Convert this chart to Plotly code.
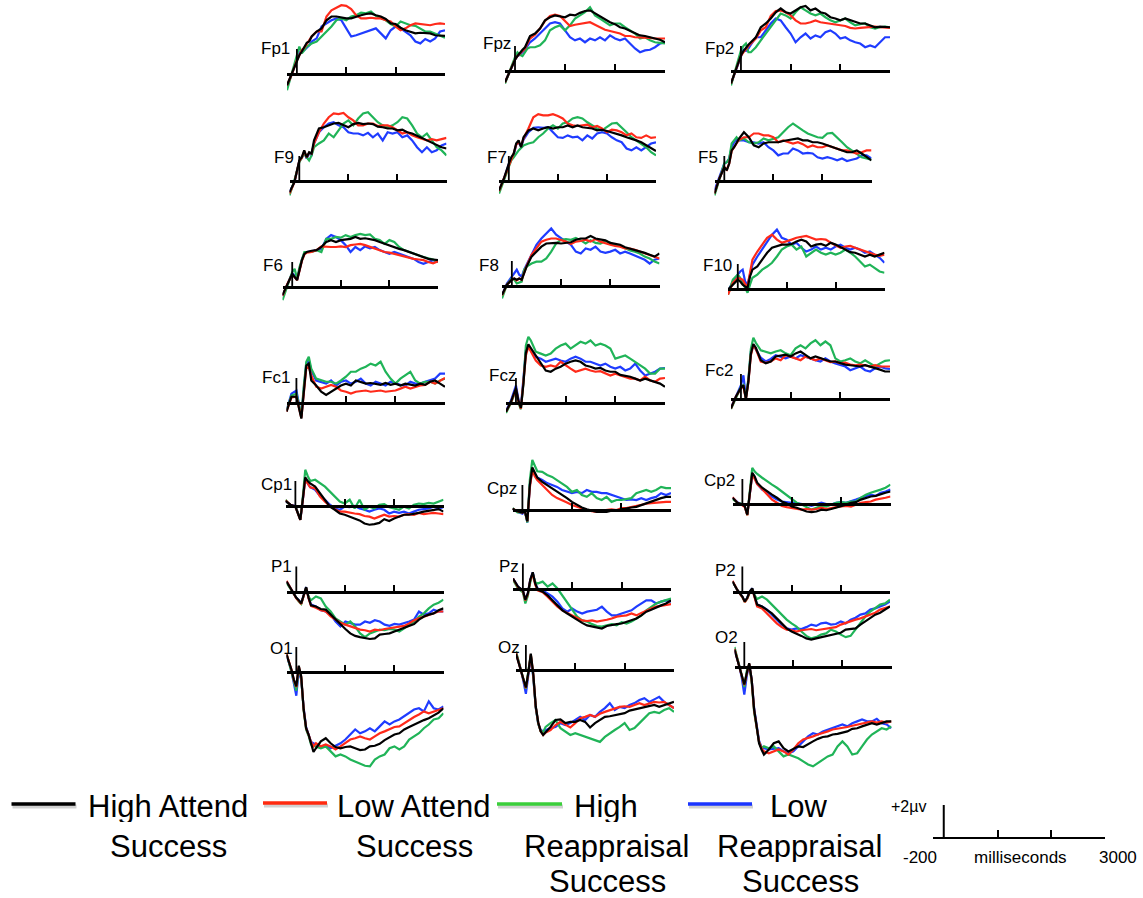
import plotly.graph_objects as go

# ---------------------------------------------------------------------------
# Sampling times (ms). Occipital sites carry an extra early sample at 350 ms
# because of the sharp N1-like trough.
# ---------------------------------------------------------------------------
TIME = [-200, -100, 0, 50, 100, 150, 200, 250, 300,
        400, 500, 600, 700, 800, 900, 1000, 1100, 1200, 1300, 1400, 1500,
        1600, 1700, 1800, 1900, 2000, 2100, 2200, 2300, 2400, 2500, 2600,
        2700, 2800, 2900, 3000]
TIME_OCC = [-200, -100, -50, 0, 50, 100, 150, 200, 250, 300, 350, 400,
            500, 600, 700, 800, 900, 1000, 1100, 1200, 1300, 1400, 1500,
            1600, 1700, 1800, 1900, 2000, 2100, 2200, 2300, 2400, 2500, 2600,
            2700, 2800, 2900, 3000]

# Grand-average amplitudes (microvolts).
# HA = High Attend Success, LA = Low Attend Success,
# HR = High Reappraisal Success, LR = Low Reappraisal Success
FP1_HA = [-0.9, 0.05, 1.1, 1.5, 1.8, 2.2, 2.5, 2.6, 3.0, 3.4, 3.65, 4.3, 4.6, 4.6, 4.5, 4.45, 4.45, 4.6, 4.7, 4.8, 4.85, 4.7, 4.6, 4.4, 4.05, 4.0, 3.7, 3.5, 3.4, 3.25, 3.3, 3.25, 3.25, 3.1, 3.1, 3.05]
FP1_LA = [-0.9, 0.0, 1.1, 1.5, 1.9, 2.1, 2.4, 2.6, 3.0, 3.4, 3.4, 4.6, 5.1, 5.3, 5.5, 5.45, 5.2, 4.7, 4.45, 4.45, 4.5, 4.45, 4.45, 4.3, 4.2, 3.8, 3.5, 3.65, 3.9, 4.05, 4.0, 4.0, 3.9, 4.0, 4.05, 4.0]
FP1_HR = [-1.3, 0.2, 1.5, 2.2, 1.65, 1.9, 2.2, 2.3, 2.45, 2.6, 3.0, 3.4, 3.8, 4.3, 4.45, 4.3, 4.6, 4.7, 4.9, 4.85, 5.0, 4.65, 4.45, 4.3, 4.0, 3.8, 4.2, 4.05, 3.9, 3.85, 3.65, 3.4, 3.4, 3.25, 3.1, 2.9]
FP1_LR = [-1.0, 0.0, 1.2, 1.7, 1.9, 1.9, 2.1, 2.3, 2.6, 2.85, 3.8, 4.05, 4.3, 4.45, 4.3, 3.65, 3.0, 3.1, 3.25, 3.4, 3.5, 3.65, 3.25, 2.85, 3.5, 3.8, 3.65, 3.4, 3.1, 2.6, 2.45, 2.8, 2.6, 2.85, 3.4, 3.5]

FPZ_HA = [-0.9, 0.05, 0.9, 1.2, 1.5, 1.7, 1.9, 2.4, 2.8, 3.0, 3.4, 4.05, 4.3, 4.45, 4.35, 4.3, 4.5, 4.45, 4.65, 4.8, 4.85, 4.6, 4.35, 4.1, 3.9, 3.75, 3.5, 3.4, 3.2, 3.0, 2.85, 2.8, 2.7, 2.65, 2.5, 2.3]
FPZ_LA = [-0.9, 0.0, 0.9, 1.2, 1.4, 1.6, 1.8, 2.2, 2.6, 2.9, 3.4, 4.0, 4.4, 4.5, 4.4, 4.0, 3.6, 3.7, 3.75, 3.8, 3.9, 3.7, 3.5, 3.3, 3.2, 3.1, 3.0, 2.8, 2.8, 2.7, 2.7, 2.7, 2.65, 2.6, 2.6, 2.6]
FPZ_HR = [-1.0, 0.1, 1.1, 1.5, 1.3, 1.2, 1.5, 1.8, 1.9, 1.9, 2.05, 2.45, 3.25, 3.5, 3.65, 3.25, 3.65, 4.2, 4.45, 4.7, 5.1, 4.45, 4.2, 3.9, 3.65, 3.8, 3.8, 3.5, 3.25, 3.0, 2.6, 2.7, 2.45, 2.3, 2.25, 2.2]
FPZ_LR = [-0.9, 0.0, 0.9, 1.2, 1.3, 1.5, 1.7, 2.0, 2.3, 2.6, 3.0, 3.4, 3.8, 3.9, 3.8, 3.25, 2.7, 2.45, 2.6, 2.3, 2.6, 2.45, 2.7, 2.45, 2.85, 2.6, 2.45, 2.6, 2.2, 1.8, 1.5, 1.65, 1.7, 1.9, 2.2, 2.3]

FP2_HA = [-1.0, 0.05, 1.25, 1.6, 1.9, 2.1, 2.3, 2.5, 2.7, 3.5, 3.8, 4.2, 4.7, 5.0, 4.7, 4.6, 4.85, 5.1, 5.2, 4.85, 5.0, 4.7, 4.6, 4.3, 4.2, 4.05, 4.2, 4.05, 3.9, 3.8, 3.8, 3.65, 3.5, 3.55, 3.5, 3.5]
FP2_LA = [-1.0, 0.05, 1.2, 1.5, 1.8, 2.0, 2.2, 2.4, 2.6, 3.25, 3.5, 4.4, 4.8, 4.85, 4.7, 4.45, 4.05, 3.8, 3.8, 3.9, 4.05, 3.9, 3.85, 3.8, 3.75, 3.65, 3.6, 3.45, 3.4, 3.45, 3.5, 3.5, 3.55, 3.5, 3.45, 3.45]
FP2_HR = [-1.15, 0.3, 1.65, 2.0, 2.2, 1.5, 1.5, 1.7, 1.9, 2.45, 3.0, 3.5, 4.05, 4.6, 4.45, 4.2, 4.7, 5.1, 4.85, 4.6, 4.45, 4.6, 4.3, 4.05, 3.9, 4.05, 4.2, 3.9, 3.65, 3.75, 3.8, 3.5, 3.4, 3.5, 3.55, 3.5]
FP2_LR = [-1.0, 0.1, 1.3, 1.7, 1.6, 1.8, 2.1, 2.4, 2.7, 2.7, 3.25, 3.8, 4.2, 4.05, 3.5, 3.0, 2.3, 2.7, 3.0, 2.6, 2.85, 2.7, 3.1, 3.25, 3.0, 2.6, 2.7, 2.45, 2.3, 2.2, 1.9, 2.05, 1.9, 2.3, 2.7, 2.7]

F9_HA = [-0.9, -0.1, 1.65, 1.9, 2.45, 1.9, 2.3, 2.2, 3.25, 4.2, 4.3, 4.45, 4.6, 4.65, 4.45, 4.3, 4.55, 4.65, 4.55, 4.6, 4.55, 4.35, 4.3, 4.2, 4.2, 4.05, 4.1, 3.9, 3.8, 3.65, 3.45, 3.25, 3.05, 2.85, 2.7, 2.6]
F9_LA = [-1.0, -0.1, 1.6, 1.85, 2.4, 1.9, 2.25, 2.2, 3.0, 3.9, 4.6, 5.1, 5.4, 5.35, 5.45, 5.1, 4.85, 4.45, 4.45, 4.6, 4.6, 4.4, 4.45, 4.45, 4.3, 4.05, 3.8, 3.9, 3.65, 3.5, 3.35, 3.25, 3.35, 3.25, 3.35, 3.45]
F9_HR = [-1.15, 0.05, 1.5, 1.8, 2.2, 1.9, 1.65, 2.05, 2.7, 3.0, 3.25, 3.8, 3.5, 4.05, 4.6, 4.85, 4.45, 5.0, 5.4, 5.5, 5.1, 4.7, 4.45, 4.3, 4.45, 4.7, 5.1, 5.0, 4.45, 3.8, 3.5, 3.8, 3.25, 2.7, 2.45, 2.05]
F9_LR = [-0.9, -0.1, 1.6, 1.85, 2.3, 1.8, 2.2, 2.1, 3.0, 3.9, 4.3, 4.6, 4.7, 4.45, 4.3, 3.9, 3.8, 3.8, 3.65, 3.85, 3.5, 3.8, 3.25, 3.9, 3.8, 3.9, 3.5, 3.65, 3.25, 2.7, 2.3, 2.7, 2.3, 2.45, 2.85, 3.0]

F7_HA = [-0.75, 0.2, 1.4, 1.9, 2.2, 3.0, 3.25, 2.7, 3.5, 4.05, 4.2, 4.05, 4.2, 4.3, 4.2, 4.3, 4.3, 4.45, 4.3, 4.45, 4.3, 4.25, 4.2, 4.05, 4.1, 4.0, 3.9, 3.8, 3.65, 3.5, 3.4, 3.25, 3.1, 2.85, 2.6, 2.4]
F7_LA = [-0.8, 0.2, 1.35, 1.85, 2.2, 2.9, 3.1, 2.8, 3.4, 4.2, 5.1, 5.35, 5.25, 5.25, 5.35, 5.2, 5.0, 4.6, 4.45, 4.4, 4.45, 4.5, 4.3, 4.4, 4.2, 3.9, 4.1, 4.05, 3.9, 3.65, 3.8, 3.5, 3.45, 3.65, 3.45, 3.5]
F7_HR = [-1.0, 0.05, 1.25, 1.65, 1.9, 2.2, 2.45, 2.65, 2.85, 3.0, 3.1, 3.5, 3.8, 4.2, 4.45, 4.2, 4.6, 4.7, 5.0, 5.1, 5.0, 4.7, 4.45, 4.2, 4.05, 4.3, 4.6, 4.65, 4.3, 3.9, 3.5, 3.25, 3.0, 2.7, 2.3, 2.05]
F7_LR = [-0.8, 0.15, 1.35, 1.8, 2.1, 2.9, 3.1, 2.75, 3.3, 3.9, 4.25, 4.3, 4.25, 4.3, 3.9, 3.5, 3.45, 3.65, 3.5, 3.55, 3.25, 3.65, 3.4, 3.8, 3.9, 3.8, 3.5, 3.25, 3.1, 2.6, 2.45, 2.7, 2.45, 2.7, 3.0, 3.1]

F5_HA = [-1.0, 0.2, 1.1, 0.85, 1.4, 2.45, 2.7, 3.1, 3.4, 3.9, 3.5, 2.85, 2.7, 3.0, 3.1, 3.1, 3.1, 3.2, 3.25, 3.3, 3.4, 3.25, 3.25, 3.1, 3.1, 3.0, 2.85, 2.7, 2.6, 2.45, 2.3, 2.3, 2.45, 2.2, 1.9, 1.65]
F5_LA = [-1.0, 0.2, 1.1, 0.9, 1.4, 2.4, 2.7, 3.0, 3.3, 3.5, 3.5, 3.8, 3.8, 3.65, 3.65, 3.5, 3.1, 3.25, 3.1, 3.0, 3.1, 2.95, 2.7, 2.85, 2.7, 2.7, 2.85, 2.7, 2.6, 2.45, 2.45, 2.3, 2.2, 2.3, 2.45, 2.45]
F5_HR = [-1.15, 0.05, 1.4, 1.5, 1.8, 3.0, 3.25, 3.5, 3.25, 3.4, 3.1, 3.0, 3.1, 3.4, 3.25, 3.4, 3.5, 3.9, 4.3, 4.6, 4.3, 4.05, 3.8, 3.65, 3.5, 3.45, 3.8, 3.85, 3.5, 3.1, 2.7, 2.45, 2.2, 1.9, 1.8, 1.7]
F5_LR = [-0.75, 0.3, 1.4, 1.5, 1.8, 2.7, 3.1, 3.3, 3.25, 3.25, 3.1, 3.1, 3.0, 3.1, 2.7, 2.45, 2.05, 2.2, 2.2, 2.6, 2.45, 2.2, 2.25, 2.2, 1.9, 1.8, 1.9, 1.8, 1.65, 1.8, 1.6, 1.7, 1.8, 2.05, 2.05, 1.8]

F6_HA = [-0.65, 0.25, 1.05, 0.8, 0.55, 1.35, 2.15, 2.65, 2.8, 2.9, 2.95, 3.2, 3.6, 3.75, 3.6, 3.75, 3.8, 3.85, 4.0, 3.85, 3.9, 3.85, 3.75, 3.6, 3.45, 3.35, 3.2, 3.05, 2.95, 2.8, 2.65, 2.5, 2.4, 2.25, 2.2, 2.15]
F6_LA = [-0.7, 0.25, 1.0, 0.8, 0.55, 1.3, 2.1, 2.6, 2.75, 2.8, 2.95, 3.25, 3.2, 3.2, 3.2, 3.25, 3.2, 3.35, 3.4, 3.45, 3.35, 3.2, 3.05, 2.95, 2.8, 2.75, 2.65, 2.55, 2.4, 2.35, 2.25, 2.2, 2.15, 2.0, 1.9, 2.05]
F6_HR = [-1.05, 0.15, 1.2, 1.45, 0.65, 1.6, 2.25, 2.8, 2.8, 2.8, 2.95, 2.8, 3.85, 3.85, 4.0, 3.95, 4.15, 4.0, 4.15, 4.25, 4.15, 4.2, 3.85, 3.75, 3.45, 3.75, 3.6, 3.2, 2.95, 2.8, 2.65, 2.5, 2.4, 2.3, 2.2, 2.0]
F6_LR = [-0.7, 0.2, 1.1, 0.9, 0.6, 1.4, 2.2, 2.7, 2.8, 2.85, 2.95, 3.05, 3.85, 4.15, 4.0, 3.75, 3.35, 2.8, 3.2, 2.95, 3.25, 3.1, 3.2, 2.95, 2.8, 2.65, 2.8, 2.65, 2.5, 2.4, 2.25, 2.0, 1.85, 2.0, 2.15, 2.0]

F8_HA = [-0.7, 0.1, 0.5, 0.6, 0.5, 0.6, 0.5, 1.0, 1.55, 2.35, 2.75, 3.15, 3.4, 3.45, 3.45, 3.4, 3.45, 3.5, 3.7, 3.8, 3.8, 4.0, 3.8, 3.7, 3.65, 3.45, 3.35, 3.3, 3.1, 3.0, 2.9, 2.75, 2.65, 2.5, 2.35, 2.6]
F8_LA = [-0.75, 0.1, 0.5, 0.6, 0.45, 0.6, 0.5, 1.05, 1.6, 2.5, 3.0, 3.55, 3.7, 3.8, 3.8, 3.7, 3.55, 3.35, 3.55, 3.6, 3.7, 3.55, 3.75, 3.55, 3.4, 3.3, 3.2, 3.15, 3.0, 3.0, 2.9, 2.75, 2.6, 2.5, 2.35, 2.2]
F8_HR = [-1.0, 0.1, 0.6, 0.5, 0.2, 0.3, 0.35, 1.3, 1.55, 1.8, 1.95, 1.95, 2.2, 2.75, 3.4, 3.7, 3.75, 3.7, 3.85, 3.65, 3.4, 3.65, 3.45, 3.4, 3.6, 3.45, 3.25, 3.2, 3.0, 2.85, 2.75, 2.6, 2.35, 2.2, 1.95, 1.8]
F8_LR = [-0.75, 0.2, 0.75, 1.0, 1.3, 0.9, 0.75, 1.3, 1.7, 2.6, 3.3, 3.8, 4.2, 4.6, 4.1, 3.8, 3.55, 3.3, 2.75, 2.6, 3.0, 2.9, 3.15, 2.75, 2.65, 2.75, 2.9, 2.6, 2.75, 2.6, 2.45, 2.3, 2.1, 1.8, 2.1, 2.2]

F10_HA = [-0.05, 0.35, 0.75, 0.6, 0.35, 0.2, 0.1, 1.0, 1.55, 1.8, 2.35, 2.9, 3.3, 3.4, 3.55, 3.55, 3.6, 3.8, 3.95, 3.8, 3.4, 3.55, 3.6, 3.45, 3.7, 3.55, 3.35, 3.15, 2.95, 2.9, 2.75, 2.6, 2.75, 2.6, 2.75, 2.9]
F10_LA = [-0.45, 0.5, 0.9, 0.8, 0.75, 0.4, 0.2, 1.3, 2.35, 3.0, 3.55, 4.1, 4.35, 3.95, 3.7, 3.8, 3.95, 4.1, 4.2, 4.25, 4.1, 3.95, 4.0, 3.95, 3.7, 3.5, 3.3, 3.4, 3.45, 3.3, 3.15, 3.0, 2.9, 2.75, 2.65, 2.75]
F10_HR = [-0.45, 0.75, 1.15, 0.9, 0.5, 0.1, -0.3, 0.35, 0.9, 1.15, 1.55, 1.8, 2.1, 2.6, 3.15, 3.4, 3.55, 3.15, 3.4, 2.6, 2.9, 3.15, 2.9, 2.75, 2.9, 2.75, 2.9, 3.15, 2.9, 2.6, 2.2, 1.8, 1.95, 1.7, 1.4, 1.3]
F10_LR = [-0.2, 0.6, 1.15, 1.4, 1.55, 0.6, 0.35, 1.3, 1.95, 2.6, 3.15, 3.7, 4.35, 4.75, 4.1, 3.95, 3.55, 3.7, 3.3, 3.0, 3.15, 3.4, 3.15, 3.3, 3.15, 3.4, 3.55, 3.3, 3.15, 3.3, 3.15, 2.9, 3.0, 2.75, 2.5, 2.1]

FC1_HA = [-0.7, 0.5, 0.5, -0.3, -1.25, 0.9, 3.0, 3.15, 1.8, 1.4, 0.9, 0.65, 0.9, 1.15, 1.4, 1.55, 1.4, 1.8, 1.7, 1.55, 1.6, 1.55, 1.45, 1.6, 1.45, 1.55, 1.4, 1.55, 1.45, 1.4, 1.55, 1.45, 1.7, 1.8, 1.55, 1.3]
FC1_LA = [-0.7, 0.45, 0.5, -0.35, -1.2, 0.8, 2.8, 2.9, 2.2, 1.3, 1.15, 1.3, 1.45, 1.3, 1.0, 0.9, 0.75, 0.9, 0.95, 1.0, 0.9, 0.95, 1.0, 0.9, 0.95, 1.0, 1.15, 1.3, 1.15, 1.3, 1.4, 1.45, 1.7, 1.55, 1.8, 2.0]
FC1_HR = [-0.6, 0.6, 0.75, -0.2, -1.0, 1.4, 3.3, 3.7, 2.75, 1.95, 1.8, 1.7, 1.7, 1.55, 1.8, 2.1, 2.5, 2.5, 2.75, 2.9, 3.15, 3.0, 3.3, 2.5, 1.95, 1.55, 1.95, 2.2, 2.5, 1.8, 1.55, 1.7, 1.7, 1.55, 1.8, 1.95]
FC1_LR = [-0.6, 0.75, 1.0, -0.05, -1.1, 1.15, 3.15, 3.45, 2.6, 1.8, 1.7, 1.55, 1.8, 1.4, 1.7, 1.8, 1.55, 1.7, 1.95, 1.55, 1.4, 1.7, 1.55, 1.4, 1.7, 1.55, 1.45, 1.4, 1.7, 1.55, 1.55, 1.7, 1.8, 1.95, 2.35, 2.35]

FCZ_HA = [-0.7, 0.1, 1.2, 0.2, -0.4, 1.5, 4.0, 4.7, 4.4, 3.8, 3.15, 2.6, 2.5, 2.75, 2.9, 3.15, 3.3, 3.4, 3.3, 3.0, 2.9, 2.75, 2.8, 2.6, 2.5, 2.5, 2.25, 2.2, 2.1, 1.95, 1.8, 1.95, 1.8, 1.7, 1.55, 1.3]
FCZ_LA = [-0.7, 0.05, 1.1, 0.15, -0.45, 1.4, 3.8, 4.5, 4.1, 3.4, 3.0, 2.9, 3.0, 2.9, 3.3, 3.0, 2.75, 2.5, 2.6, 2.75, 2.6, 2.5, 2.55, 2.35, 2.2, 2.35, 2.2, 2.1, 1.95, 1.95, 1.8, 2.1, 1.8, 1.7, 1.95, 2.0]
FCZ_HR = [-0.8, 0.0, 1.0, 0.0, -0.5, 1.6, 4.6, 5.3, 5.0, 4.1, 3.95, 3.8, 3.95, 4.35, 4.6, 4.75, 4.35, 4.6, 4.9, 4.75, 5.0, 4.6, 4.75, 4.6, 4.35, 3.55, 3.7, 3.8, 3.55, 3.3, 3.0, 2.75, 2.35, 2.35, 2.75, 2.75]
FCZ_LR = [-0.65, 0.2, 1.4, 0.3, -0.3, 1.7, 4.2, 4.6, 4.2, 3.7, 3.55, 3.3, 3.4, 3.55, 3.4, 3.3, 3.55, 3.7, 3.55, 3.3, 3.3, 3.15, 3.0, 3.15, 2.9, 2.75, 2.9, 2.6, 2.75, 3.15, 2.6, 2.2, 2.35, 2.5, 2.75, 2.8]

FC2_HA = [-0.75, 0.2, 0.9, 1.1, 0.0, 1.4, 3.6, 4.4, 4.1, 3.1, 2.85, 3.0, 3.4, 3.5, 3.55, 3.4, 3.65, 3.8, 3.5, 3.25, 3.4, 3.25, 3.1, 3.0, 3.0, 2.85, 2.75, 2.7, 2.65, 2.6, 2.7, 2.6, 2.45, 2.35, 2.2, 2.2]
FC2_LA = [-0.75, 0.2, 0.85, 1.0, 0.0, 1.35, 3.5, 4.3, 4.0, 3.0, 2.9, 3.0, 3.25, 3.1, 3.5, 3.4, 3.25, 3.1, 3.4, 3.25, 3.1, 3.25, 3.1, 2.95, 3.0, 2.85, 2.9, 2.75, 2.7, 2.75, 2.7, 2.6, 2.7, 2.6, 2.6, 2.6]
FC2_HR = [-0.8, 0.15, 0.95, 1.1, 0.1, 1.6, 4.0, 4.9, 4.5, 3.9, 3.8, 3.65, 3.8, 3.9, 3.65, 3.5, 4.05, 4.3, 4.05, 4.45, 4.7, 4.3, 4.6, 4.3, 3.25, 3.0, 3.1, 3.25, 3.0, 2.85, 3.1, 2.85, 2.6, 2.85, 3.05, 3.1]
FC2_LR = [-0.7, 0.25, 1.1, 1.9, 0.1, 1.5, 3.8, 4.3, 4.0, 3.3, 3.0, 3.2, 3.5, 3.4, 3.25, 3.4, 3.25, 3.5, 3.4, 3.25, 3.1, 3.0, 3.25, 3.0, 2.85, 2.7, 2.6, 2.3, 2.45, 2.6, 2.3, 2.2, 2.45, 2.6, 2.45, 2.4]

CP1_HA = [0.4, 0.1, -0.05, -0.6, -1.1, 0.5, 2.3, 2.0, 1.8, 1.55, 1.0, 0.5, -0.05, -0.3, -0.6, -0.7, -0.85, -1.0, -1.15, -1.4, -1.5, -1.45, -1.35, -1.05, -1.2, -1.0, -0.85, -0.7, -0.7, -0.65, -0.55, -0.45, -0.4, -0.3, -0.25, -0.45]
CP1_LA = [0.45, 0.1, -0.05, -0.6, -1.1, 0.45, 2.1, 1.8, 1.5, 1.4, 0.75, 0.35, 0.0, -0.25, -0.45, -0.45, -0.55, -0.6, -0.65, -0.8, -0.85, -1.0, -0.85, -0.7, -0.85, -0.8, -0.85, -0.7, -0.65, -0.7, -0.55, -0.65, -0.6, -0.55, -0.6, -0.65]
CP1_HR = [0.5, 0.0, 0.0, -0.5, -1.1, 0.7, 2.9, 2.4, 2.0, 2.1, 1.8, 1.55, 1.15, 0.75, 0.35, 0.2, 0.5, -0.2, 0.5, -0.3, -0.05, -0.2, 0.1, 0.15, -0.1, -0.2, -0.3, -0.05, -0.2, 0.1, 0.2, 0.15, 0.25, 0.2, 0.35, 0.5]
CP1_LR = [0.4, 0.1, 0.0, -0.55, -1.1, 0.5, 2.2, 1.8, 1.5, 1.3, 0.8, 0.5, 0.1, -0.2, -0.3, -0.05, -0.1, 0.0, -0.2, -0.3, -0.45, -0.3, -0.2, -0.3, -0.6, -0.45, -0.55, -0.45, -0.6, -0.45, -0.3, -0.25, -0.2, -0.05, -0.2, -0.1]

CPZ_HA = [0.1, -0.1, -0.2, -0.1, -0.9, 2.0, 3.4, 3.0, 2.6, 2.25, 2.0, 1.75, 1.45, 1.2, 0.95, 0.65, 0.4, 0.2, 0.05, -0.05, -0.15, -0.15, -0.15, -0.05, -0.05, 0.05, 0.15, 0.2, 0.25, 0.4, 0.55, 0.65, 0.8, 0.95, 1.05, 1.05]
CPZ_LA = [0.1, -0.1, -0.2, -0.1, -0.9, 1.8, 3.2, 2.7, 2.4, 2.0, 1.6, 1.2, 0.95, 0.8, 0.6, 0.4, 0.25, 0.15, 0.0, -0.1, -0.15, -0.05, 0.0, 0.05, 0.0, 0.15, 0.15, 0.25, 0.3, 0.4, 0.5, 0.55, 0.6, 0.65, 0.65, 0.65]
CPZ_HR = [0.15, -0.2, -0.2, -0.1, -1.0, 2.4, 4.0, 3.5, 3.1, 3.05, 2.8, 2.65, 2.4, 2.15, 1.85, 1.45, 1.6, 1.2, 1.05, 1.35, 0.95, 0.8, 1.05, 0.65, 0.8, 0.8, 0.85, 0.95, 1.35, 1.45, 1.6, 1.45, 1.6, 1.85, 1.75, 1.75]
CPZ_LR = [0.1, -0.15, -0.3, -0.1, -1.0, 2.0, 3.2, 2.9, 2.6, 2.4, 2.15, 2.0, 1.85, 1.6, 1.45, 1.35, 1.45, 1.35, 1.6, 1.45, 1.45, 1.35, 1.35, 1.2, 1.05, 0.95, 0.8, 0.85, 0.8, 0.95, 0.8, 0.95, 1.05, 1.35, 1.2, 1.35]

CP2_HA = [0.5, 0.1, -0.05, -0.2, -0.85, 0.9, 2.5, 2.2, 1.7, 1.3, 1.0, 0.75, 0.5, 0.2, 0.05, -0.2, -0.3, -0.45, -0.6, -0.65, -0.6, -0.45, -0.5, -0.4, -0.3, -0.2, -0.05, 0.1, 0.15, 0.35, 0.5, 0.6, 0.65, 0.8, 0.9, 1.0]
CP2_LA = [0.55, 0.1, -0.1, -0.25, -0.9, 0.85, 2.4, 2.0, 1.6, 1.2, 0.75, 0.35, 0.1, -0.15, -0.25, -0.3, -0.4, -0.45, -0.4, -0.45, -0.4, -0.3, -0.4, -0.3, -0.25, -0.2, -0.15, -0.2, -0.05, 0.1, 0.15, 0.2, 0.35, 0.4, 0.5, 0.6]
CP2_HR = [0.4, 0.1, 0.0, -0.2, -0.9, 1.0, 2.9, 2.6, 2.4, 2.1, 1.8, 1.55, 1.3, 1.0, 0.75, 0.4, 0.1, -0.05, -0.25, -0.45, -0.3, -0.15, -0.2, -0.05, 0.1, 0.15, 0.1, 0.2, 0.2, 0.5, 0.75, 0.9, 1.0, 1.15, 1.3, 1.55]
CP2_LR = [0.5, 0.15, -0.05, -0.2, -0.85, 0.9, 2.4, 2.1, 1.6, 1.15, 0.95, 0.6, 0.35, 0.2, 0.15, 0.1, 0.1, 0.0, -0.05, -0.15, -0.05, 0.1, 0.0, -0.05, 0.1, 0.15, 0.1, 0.2, 0.35, 0.5, 0.6, 0.75, 0.65, 0.9, 1.0, 1.15]

P1_HA = [0.8, 0.15, -0.5, -0.7, -0.95, -0.3, 0.35, -0.5, -1.1, -1.2, -1.4, -1.45, -1.85, -2.25, -2.65, -3.0, -3.35, -3.55, -3.65, -3.75, -3.8, -3.75, -3.45, -3.4, -3.35, -3.2, -3.05, -2.85, -2.75, -2.6, -2.25, -2.0, -1.85, -1.75, -1.5, -1.35]
P1_LA = [0.85, 0.15, -0.55, -0.75, -1.0, -0.35, 0.3, -0.55, -1.15, -1.3, -1.5, -1.6, -2.0, -2.25, -2.5, -2.65, -2.8, -2.95, -3.05, -3.1, -3.2, -3.05, -3.1, -3.0, -2.95, -2.85, -2.8, -2.75, -2.55, -2.3, -2.15, -2.0, -1.85, -1.7, -1.6, -1.6]
P1_HR = [0.7, 0.1, -0.6, -0.8, -1.0, -0.3, 0.3, -0.4, -0.7, -0.4, -0.55, -1.2, -1.6, -2.15, -2.4, -2.65, -2.4, -2.8, -3.35, -3.65, -3.35, -3.2, -3.05, -3.1, -3.0, -3.05, -3.2, -2.95, -2.65, -2.4, -2.0, -1.75, -1.35, -1.05, -0.9, -0.65]
P1_LR = [0.8, 0.15, -0.5, -0.7, -0.95, -0.3, 0.35, -0.5, -1.05, -1.2, -1.5, -1.6, -1.85, -2.4, -2.8, -2.4, -2.55, -2.65, -2.65, -2.4, -2.5, -2.3, -2.4, -2.65, -2.75, -2.6, -2.65, -2.55, -2.4, -2.25, -1.6, -1.85, -1.75, -1.45, -1.6, -1.6]

PZ_HA = [0.8, 0.15, -0.15, -0.9, -0.4, 0.7, 1.3, 0.4, -0.1, -0.25, -0.55, -0.95, -1.35, -1.75, -2.0, -2.25, -2.55, -2.75, -2.95, -3.05, -3.1, -3.2, -3.0, -2.9, -2.85, -2.8, -2.65, -2.55, -2.4, -2.15, -1.85, -1.7, -1.5, -1.35, -1.2, -0.95]
PZ_LA = [0.8, 0.1, -0.2, -0.95, -0.45, 0.65, 1.2, 0.3, -0.15, -0.3, -0.65, -1.05, -1.45, -1.75, -1.95, -2.15, -2.4, -2.55, -2.6, -2.55, -2.65, -2.6, -2.5, -2.4, -2.25, -2.2, -2.15, -2.0, -2.15, -1.95, -1.75, -1.6, -1.45, -1.4, -1.35, -1.25]
PZ_HR = [0.7, 0.0, -0.3, -1.2, -0.6, 0.5, 1.2, 0.5, 0.4, 0.55, 0.15, 0.4, 0.0, -0.55, -1.2, -1.75, -2.25, -2.55, -2.65, -2.85, -3.0, -3.05, -2.95, -2.85, -2.95, -2.7, -2.8, -2.65, -2.4, -2.15, -1.75, -1.45, -1.2, -1.05, -0.9, -0.8]
PZ_LR = [0.8, 0.15, -0.15, -0.9, -0.4, 0.7, 1.3, 0.4, 0.0, -0.15, -0.4, -0.65, -1.05, -1.6, -1.85, -1.6, -1.85, -2.0, -1.85, -1.75, -1.7, -1.45, -1.85, -2.15, -2.15, -2.0, -1.85, -1.75, -1.45, -1.2, -0.95, -0.95, -1.2, -1.05, -0.95, -1.05]

P2_HA = [0.8, 0.1, -0.4, -0.8, -0.5, 0.0, 0.25, -0.4, -1.05, -1.2, -1.45, -1.75, -2.15, -2.55, -2.95, -3.2, -3.35, -3.55, -3.75, -3.85, -3.75, -3.65, -3.55, -3.45, -3.35, -3.3, -3.05, -3.0, -2.95, -2.65, -2.4, -2.15, -1.85, -1.7, -1.45, -1.2]
P2_LA = [0.85, 0.1, -0.45, -0.85, -0.55, -0.05, 0.2, -0.5, -1.2, -1.35, -1.75, -2.15, -2.55, -2.85, -3.05, -3.1, -3.2, -3.1, -3.05, -3.0, -3.1, -3.05, -3.0, -2.95, -2.85, -2.65, -2.5, -2.4, -2.25, -2.15, -2.0, -1.85, -1.7, -1.45, -1.35, -1.2]
P2_HR = [0.8, 0.1, -0.45, -0.85, -0.55, -0.1, 0.2, -0.3, -0.6, -0.4, -0.65, -1.05, -1.45, -1.85, -2.25, -2.55, -2.8, -3.2, -3.55, -3.75, -3.65, -3.45, -3.35, -3.05, -3.2, -3.45, -3.65, -3.55, -3.05, -2.55, -2.0, -1.6, -1.35, -1.05, -0.95, -0.65]
P2_LR = [0.8, 0.1, -0.4, -0.8, -0.5, 0.0, 0.25, -0.4, -1.05, -1.2, -1.45, -1.85, -2.25, -2.65, -2.95, -3.05, -2.95, -3.0, -2.85, -2.65, -2.75, -2.55, -2.5, -2.65, -2.6, -2.4, -2.55, -2.25, -2.1, -1.85, -1.75, -1.45, -1.35, -1.2, -1.05, -0.8]

O1_HA = [1.4, 0.2, -0.6, -1.15, 0.5, -0.35, -3.0, -4.5, -5.0, -5.7, -6.4, -6.1, -5.55, -5.3, -5.7, -6.0, -6.1, -6.0, -5.95, -6.1, -6.25, -6.2, -5.95, -5.9, -5.75, -5.45, -5.2, -5.0, -4.9, -4.6, -4.4, -4.2, -4.0, -3.85, -3.7, -3.5, -3.25, -2.9]
O1_LA = [1.45, 0.2, -0.65, -1.2, 0.45, -0.4, -3.0, -4.5, -5.0, -5.6, -5.95, -5.7, -5.95, -5.8, -5.95, -6.2, -5.95, -5.7, -5.4, -5.3, -5.15, -5.3, -5.4, -5.15, -4.9, -4.75, -4.6, -4.4, -4.35, -4.1, -3.8, -3.6, -3.4, -3.15, -3.3, -3.15, -3.05, -2.9]
O1_HR = [1.5, 0.0, -0.8, -1.5, 0.3, -0.5, -3.1, -4.6, -5.1, -5.8, -5.9, -5.95, -6.1, -5.95, -6.35, -6.75, -6.6, -6.75, -7.0, -7.15, -7.35, -7.5, -7.55, -7.0, -6.75, -6.6, -6.1, -5.95, -6.2, -5.95, -5.4, -5.15, -4.9, -4.5, -4.2, -3.8, -3.7, -3.3]
O1_LR = [1.4, 0.1, -0.9, -1.9, 0.1, -0.6, -2.9, -4.4, -5.0, -5.6, -5.7, -5.8, -5.95, -5.9, -6.1, -5.9, -5.7, -5.4, -5.0, -4.6, -4.9, -4.75, -4.5, -4.75, -4.35, -3.95, -4.2, -3.95, -3.8, -3.55, -3.3, -3.0, -2.9, -3.15, -2.35, -2.9, -3.0, -2.75]

OZ_HA = [1.3, 0.0, -0.6, -1.4, -0.2, 1.3, -0.3, -2.9, -4.2, -4.9, -5.2, -5.0, -4.55, -4.0, -3.95, -4.25, -4.15, -4.15, -4.0, -4.15, -4.6, -4.25, -4.0, -3.75, -3.7, -3.6, -3.5, -3.45, -3.25, -3.15, -3.05, -2.95, -2.9, -2.8, -2.95, -2.8, -2.65, -2.55]
OZ_LA = [1.35, 0.0, -0.65, -1.45, -0.25, 1.25, -0.35, -2.95, -4.2, -4.9, -5.2, -5.0, -4.8, -4.4, -4.15, -4.4, -4.6, -4.25, -3.85, -3.75, -3.6, -3.75, -3.5, -3.35, -3.2, -3.05, -2.95, -2.9, -2.95, -2.8, -2.65, -2.8, -2.65, -2.55, -2.6, -2.55, -2.8, -3.05]
OZ_HR = [1.5, 0.1, -0.8, -1.5, -0.1, 1.2, -0.5, -3.0, -4.3, -4.9, -4.95, -4.55, -4.25, -4.0, -4.65, -4.95, -5.2, -5.05, -5.2, -5.35, -5.45, -5.6, -5.75, -5.35, -5.05, -4.8, -4.55, -4.25, -4.8, -4.65, -4.25, -3.85, -3.45, -3.35, -3.45, -3.2, -3.05, -3.35]
OZ_LR = [1.35, 0.0, -0.9, -1.9, -0.4, 1.1, -0.6, -3.0, -4.3, -4.8, -4.9, -4.8, -4.65, -4.55, -4.25, -4.4, -4.25, -4.0, -3.75, -4.0, -3.6, -3.75, -3.35, -3.05, -2.65, -3.2, -2.95, -3.05, -2.8, -2.65, -2.4, -2.25, -2.55, -2.35, -2.15, -2.55, -2.8, -3.05]

O2_HA = [1.4, 0.05, -0.75, -1.4, -0.5, 0.3, -1.0, -3.4, -4.7, -6.1, -6.6, -7.0, -6.6, -6.1, -5.95, -6.5, -6.75, -6.55, -6.35, -6.4, -6.15, -5.95, -5.75, -5.6, -5.55, -5.4, -5.35, -5.25, -5.15, -4.95, -4.9, -4.75, -4.6, -4.5, -4.6, -4.45, -4.35, -4.35]
O2_LA = [1.45, 0.05, -0.8, -1.45, -0.55, 0.25, -1.05, -3.45, -4.75, -6.0, -6.5, -6.75, -6.9, -6.75, -6.6, -6.75, -7.0, -6.6, -6.1, -5.8, -5.7, -5.55, -5.4, -5.3, -5.15, -5.0, -4.95, -4.9, -4.8, -4.7, -4.6, -4.55, -4.45, -4.35, -4.45, -4.35, -4.45, -4.35]
O2_HR = [1.6, 0.2, -0.7, -1.6, -0.3, 0.2, -1.2, -3.6, -5.0, -6.0, -6.5, -6.35, -6.5, -6.35, -6.75, -7.15, -7.0, -7.15, -7.3, -7.55, -7.8, -7.95, -7.7, -7.4, -7.15, -7.0, -6.35, -5.95, -6.35, -7.0, -6.9, -6.35, -5.8, -5.4, -5.15, -4.9, -5.0, -4.75]
O2_LR = [1.4, 0.05, -0.9, -2.2, -0.7, 0.2, -1.0, -3.3, -4.6, -5.9, -6.4, -6.5, -6.6, -6.55, -6.5, -6.75, -6.9, -6.75, -6.35, -5.95, -5.55, -5.3, -5.4, -5.15, -5.0, -4.9, -4.75, -4.6, -4.75, -4.5, -4.35, -4.2, -4.35, -4.35, -4.15, -4.5, -4.6, -4.9]

ELECTRODES = [
    ("Fp1", TIME, FP1_HA, FP1_LA, FP1_HR, FP1_LR),
    ("Fpz", TIME, FPZ_HA, FPZ_LA, FPZ_HR, FPZ_LR),
    ("Fp2", TIME, FP2_HA, FP2_LA, FP2_HR, FP2_LR),
    ("F9", TIME, F9_HA, F9_LA, F9_HR, F9_LR),
    ("F7", TIME, F7_HA, F7_LA, F7_HR, F7_LR),
    ("F5", TIME, F5_HA, F5_LA, F5_HR, F5_LR),
    ("F6", TIME, F6_HA, F6_LA, F6_HR, F6_LR),
    ("F8", TIME, F8_HA, F8_LA, F8_HR, F8_LR),
    ("F10", TIME, F10_HA, F10_LA, F10_HR, F10_LR),
    ("Fc1", TIME, FC1_HA, FC1_LA, FC1_HR, FC1_LR),
    ("Fcz", TIME, FCZ_HA, FCZ_LA, FCZ_HR, FCZ_LR),
    ("Fc2", TIME, FC2_HA, FC2_LA, FC2_HR, FC2_LR),
    ("Cp1", TIME, CP1_HA, CP1_LA, CP1_HR, CP1_LR),
    ("Cpz", TIME, CPZ_HA, CPZ_LA, CPZ_HR, CPZ_LR),
    ("Cp2", TIME, CP2_HA, CP2_LA, CP2_HR, CP2_LR),
    ("P1", TIME, P1_HA, P1_LA, P1_HR, P1_LR),
    ("Pz", TIME, PZ_HA, PZ_LA, PZ_HR, PZ_LR),
    ("P2", TIME, P2_HA, P2_LA, P2_HR, P2_LR),
    ("O1", TIME_OCC, O1_HA, O1_LA, O1_HR, O1_LR),
    ("Oz", TIME_OCC, OZ_HA, OZ_LA, OZ_HR, OZ_LR),
    ("O2", TIME_OCC, O2_HA, O2_LA, O2_HR, O2_LR),
]

CONDITIONS = ["High Attend Success", "Low Attend Success",
              "High Reappraisal Success", "Low Reappraisal Success"]

# ---------------------------------------------------------------------------
# Page layout (pixels): panel box = (x of -200 ms, x of 3000 ms, y of 0 uV)
# ---------------------------------------------------------------------------
W, H = 1143, 898
PX_PER_UV = 12.5
ONSET_UV = 2.0

PANEL_BOX = {
    "Fp1": (287, 445, 74), "Fpz": (505, 665, 71), "Fp2": (731, 890, 71),
    "F9": (289.5, 446.5, 181), "F7": (499, 656, 181), "F5": (714.5, 871.5, 181),
    "F6": (282.5, 438, 287), "F8": (502, 659.5, 286), "F10": (728, 884.5, 289),
    "Fc1": (286.5, 445, 403), "Fcz": (506, 665, 403), "Fc2": (731, 890, 399),
    "Cp1": (285.5, 443.5, 506), "Cpz": (512.5, 671, 510), "Cp2": (732.5, 890.5, 504),
    "P1": (286.5, 443.5, 591.5), "Pz": (513, 671, 588.5), "P2": (732.5, 890, 591.5),
    "O1": (286.5, 443.5, 672), "Oz": (516, 674, 670), "O2": (734.5, 891.5, 667),
}
LABEL_POS = {
    "Fp1": (275, 48), "Fpz": (497, 43), "Fp2": (719, 48),
    "F9": (284, 157), "F7": (497, 157), "F5": (708, 157),
    "F6": (273, 265), "F8": (489, 265), "F10": (717, 265),
    "Fc1": (276, 377), "Fcz": (502, 375), "Fc2": (719, 370),
    "Cp1": (276, 484), "Cpz": (502, 488), "Cp2": (719, 480),
    "P1": (281, 566), "Pz": (509, 566), "P2": (725, 570),
    "O1": (281, 648), "Oz": (509, 647), "O2": (726, 637),
}

TRACE_COLORS = {"HA": "#000000", "LA": "#ff2a1a", "HR": "#20b458", "LR": "#1f3cff"}
LEGEND_COLORS = ["#000000", "#ff2a0f", "#3bcf3b", "#1a35ff"]
FONT = "Liberation Sans, Arial, Helvetica, sans-serif"


def fx(px):
    return px / W


def fy(py):
    return 1 - py / H


fig = go.Figure()
axes = {}


def add_axes(idx, left, right, zero_y, up, down, px_per_uv, ticklen, linewidth):
    sfx = "" if idx == 1 else str(idx)
    axes["xaxis" + sfx] = dict(
        domain=[fx(left), fx(right)], range=[-200, 3000],
        anchor="free", position=fy(zero_y),
        showline=True, linecolor="black", linewidth=linewidth,
        ticks="inside", tickvals=[1000, 2000], ticklen=ticklen,
        tickwidth=1.6, tickcolor="black", showticklabels=False,
        showgrid=False, zeroline=False, fixedrange=True, layer="above traces")
    axes["yaxis" + sfx] = dict(
        domain=[fy(zero_y + down), fy(zero_y - up)],
        range=[-down / px_per_uv, up / px_per_uv],
        visible=False, fixedrange=True, anchor="x" + sfx)
    return "x" + sfx, "y" + sfx


for i, (name, t, ha, la, hr, lr) in enumerate(ELECTRODES, start=1):
    left, right, zero_y = PANEL_BOX[name]
    up = min(zero_y - 1, 95)
    down = min(H - 1 - zero_y, 110)
    xr, yr = add_axes(i, left, right, zero_y, up, down, PX_PER_UV, 6, 2.5)
    for key, vals in (("LR", lr), ("HR", hr), ("LA", la), ("HA", ha)):
        fig.add_trace(go.Scatter(
            x=t, y=vals, mode="lines", xaxis=xr, yaxis=yr,
            line=dict(color=TRACE_COLORS[key], width=2.2),
            showlegend=False, hoverinfo="skip"))
    # stimulus-onset marker, +2 uV tall
    fig.add_shape(type="line", xref=xr, yref=yr, x0=0, x1=0, y0=0, y1=ONSET_UV,
                  line=dict(color="black", width=1.8))
    lx, ly = LABEL_POS[name]
    fig.add_annotation(x=fx(lx), y=fy(ly), xref="paper", yref="paper",
                       text=name, showarrow=False, xanchor="center", yanchor="middle",
                       font=dict(family=FONT, size=17, color="black"))

# ---------------------------------------------------------------------------
# Calibration bar: +2 uV, -200 .. 3000 ms
# ---------------------------------------------------------------------------
SCALE_PX_PER_UV = 16.5
xs, ys = add_axes(len(ELECTRODES) + 1, 933, 1105, 838, 40, 6, SCALE_PX_PER_UV, 7, 2)
fig.add_trace(go.Scatter(x=[], y=[], xaxis=xs, yaxis=ys, showlegend=False, hoverinfo="skip"))
fig.add_shape(type="line", xref=xs, yref=ys, x0=0, x1=0, y0=0, y1=ONSET_UV,
              line=dict(color="black", width=2))
for txt, px, py, size in (("+2\u00b5v", 908, 806, 16), ("-200", 920, 857, 17),
                          ("milliseconds", 1020, 857, 17), ("3000", 1118, 857, 17)):
    fig.add_annotation(x=fx(px), y=fy(py), xref="paper", yref="paper", text=txt,
                       showarrow=False, xanchor="center", yanchor="middle",
                       font=dict(family=FONT, size=size, color="black"))

# ---------------------------------------------------------------------------
# Condition key along the bottom
# ---------------------------------------------------------------------------
KEY_LINES = [(11.5, 75.5, 804), (263, 327, 803), (497, 562, 804), (688, 752, 804)]
KEY_TEXT = [
    [("High Attend", 168, 806), ("Success", 168, 846)],
    [("Low Attend", 413, 806), ("Success", 414, 846)],
    [("High", 606, 806), ("Reappraisal", 606, 846), ("Success", 607, 881)],
    [("Low", 798, 806), ("Reappraisal", 799, 846), ("Success", 800, 881)],
]
for (x0, x1, y), color, lines in zip(KEY_LINES, LEGEND_COLORS, KEY_TEXT):
    fig.add_shape(type="line", xref="paper", yref="paper",
                  x0=fx(x0 + 1), x1=fx(x1 + 1), y0=fy(y + 2.5), y1=fy(y + 2.5),
                  line=dict(color="rgba(0,0,0,0.18)", width=4))
    fig.add_shape(type="line", xref="paper", yref="paper",
                  x0=fx(x0), x1=fx(x1), y0=fy(y), y1=fy(y),
                  line=dict(color=color, width=3.5))
    for txt, px, py in lines:
        fig.add_annotation(x=fx(px), y=fy(py), xref="paper", yref="paper", text=txt,
                           showarrow=False, xanchor="center", yanchor="middle",
                           height=32, valign="middle",
                           font=dict(family=FONT, size=31, color="black"))

fig.update_layout(
    width=W, height=H, margin=dict(l=0, r=0, t=0, b=0),
    paper_bgcolor="white", plot_bgcolor="rgba(0,0,0,0)",
    showlegend=False, **axes)

fig.write_html("out.html")
